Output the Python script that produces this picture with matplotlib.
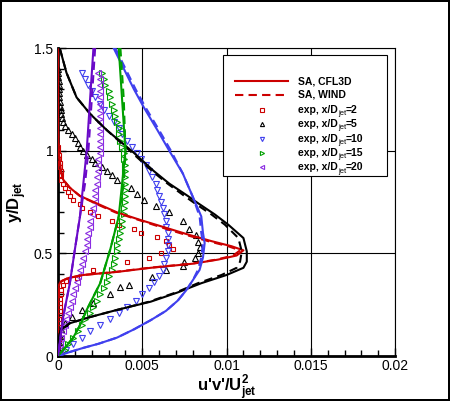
import numpy as np
import matplotlib
matplotlib.use("Agg")
import matplotlib.pyplot as plt
from matplotlib.ticker import MultipleLocator, FixedLocator
from matplotlib.patches import Rectangle

plt.rcParams['font.family'] = ['Liberation Sans', 'DejaVu Sans']
plt.rcParams['mathtext.fontset'] = 'custom'
plt.rcParams['mathtext.rm'] = 'Liberation Sans'
plt.rcParams['mathtext.bf'] = 'Liberation Sans:bold'

# ---- SA, CFL3D profiles (u'v'/Ujet^2 vs y/Djet) ----
cfl_y_2 = [1.5, 1.1, 1.0, 0.95, 0.90, 0.86, 0.82, 0.78, 0.74, 0.70, 0.66, 0.62, 0.59, 0.56, 0.535,
           0.515, 0.49, 0.47, 0.45, 0.43, 0.41, 0.395, 0.38, 0.365, 0.355, 0.34, 0.2, 0.0]
cfl_x_2 = [0.0, 0.0, 0.00003, 0.0001, 0.00018, 0.0003, 0.0007, 0.0013, 0.0024, 0.0035, 0.0050, 0.0066,
           0.0078, 0.0091, 0.0103, 0.0110, 0.0106, 0.0095, 0.0080, 0.0055, 0.0035, 0.0015, 0.0006,
           0.0002, 0.0001, 0.00003, 0.0, 0.0]
cfl_y_5 = [1.5, 1.44, 1.38, 1.32, 1.26, 1.18, 1.10, 0.99, 0.90, 0.84, 0.78, 0.745, 0.69, 0.64, 0.575,
           0.51, 0.46, 0.43, 0.395, 0.355, 0.31, 0.265, 0.225, 0.19, 0.16, 0.13, 0.11, 0.06, 0.0]
cfl_x_5 = [0.0001, 0.0003, 0.0005, 0.0008, 0.0011, 0.0019, 0.0029, 0.0045, 0.0057, 0.0066, 0.0077,
           0.0083, 0.0093, 0.0101, 0.0110, 0.0112, 0.0112, 0.0110, 0.0100, 0.0085, 0.0071, 0.0055,
           0.0035, 0.0019, 0.0007, 0.0002, 0.0001, 0.0, 0.0]
cfl_y_10 = [1.5, 1.4, 1.3, 1.21, 1.1, 1.0, 0.89, 0.775, 0.68, 0.60, 0.55, 0.48, 0.42, 0.37, 0.32,
            0.27, 0.22, 0.175, 0.13, 0.09, 0.06, 0.04, 0.02, 0.0]
cfl_x_10 = [0.0033, 0.0039, 0.0045, 0.0051, 0.0059, 0.0066, 0.0074, 0.0080, 0.0085, 0.0086, 0.0087,
            0.0086, 0.0084, 0.0080, 0.0076, 0.0071, 0.0064, 0.0055, 0.0045, 0.0035, 0.0024, 0.0015,
            0.0007, 0.0]
cfl_y_15 = [1.5, 1.25, 1.0, 0.84, 0.68, 0.52, 0.355, 0.225, 0.15, 0.09, 0.04, 0.0]
cfl_x_15 = [0.0036, 0.0038, 0.0040, 0.0038, 0.0036, 0.0031, 0.0025, 0.0017, 0.0013, 0.0009, 0.0004, 0.0]
cfl_y_20 = [1.5, 1.25, 1.0, 0.84, 0.68, 0.52, 0.355, 0.19, 0.0]
cfl_x_20 = [0.0021, 0.0019, 0.0017, 0.0015, 0.0013, 0.0010, 0.0007, 0.0003, 0.0]

# ---- SA, WIND profiles ----
wind_y_2 = [1.5, 1.1, 1.0, 0.95, 0.90, 0.86, 0.82, 0.78, 0.74, 0.70, 0.66, 0.62, 0.59, 0.56, 0.535,
            0.515, 0.49, 0.47, 0.45, 0.43, 0.41, 0.395, 0.38, 0.365, 0.355, 0.34, 0.2, 0.0]
wind_x_2 = [0.0, 0.0, 0.00003, 0.0001, 0.00018, 0.0003, 0.0007, 0.0013, 0.0023, 0.0034, 0.0049, 0.0064,
            0.0076, 0.0089, 0.0101, 0.0108, 0.0104, 0.0094, 0.0079, 0.0054, 0.0034, 0.0015, 0.0006,
            0.0002, 0.0001, 0.00003, 0.0, 0.0]
wind_y_5 = [1.5, 1.44, 1.38, 1.32, 1.26, 1.18, 1.10, 0.99, 0.90, 0.84, 0.78, 0.745, 0.69, 0.64, 0.575,
            0.51, 0.46, 0.43, 0.395, 0.355, 0.31, 0.265, 0.225, 0.19, 0.16, 0.13, 0.11, 0.06, 0.0]
wind_x_5 = [0.0001, 0.0003, 0.0005, 0.0008, 0.0011, 0.0019, 0.0029, 0.0044, 0.0056, 0.0065, 0.0075,
            0.0081, 0.0091, 0.0099, 0.0107, 0.0109, 0.0108, 0.0106, 0.0097, 0.0083, 0.0070, 0.0054,
            0.0035, 0.0019, 0.0007, 0.0002, 0.0001, 0.0, 0.0]
wind_y_10 = [1.5, 1.4, 1.3, 1.21, 1.1, 1.0, 0.89, 0.775, 0.68, 0.60, 0.55, 0.48, 0.42, 0.37, 0.32,
             0.27, 0.22, 0.175, 0.13, 0.09, 0.06, 0.04, 0.02, 0.0]
wind_x_10 = [0.0034, 0.0040, 0.0046, 0.0052, 0.0060, 0.0067, 0.0074, 0.0080, 0.0084, 0.0085, 0.0086,
             0.0085, 0.0083, 0.0080, 0.0076, 0.0071, 0.0064, 0.0055, 0.0045, 0.0035, 0.0024, 0.0015,
             0.0007, 0.0]
wind_y_15 = [1.5, 1.25, 1.0, 0.84, 0.68, 0.52, 0.355, 0.225, 0.15, 0.09, 0.04, 0.0]
wind_x_15 = [0.0037, 0.0039, 0.0040, 0.0039, 0.0036, 0.0031, 0.0025, 0.0017, 0.0013, 0.0009, 0.0004, 0.0]
wind_y_20 = [1.5, 1.25, 1.0, 0.84, 0.68, 0.52, 0.355, 0.19, 0.0]
wind_x_20 = [0.0022, 0.0020, 0.0018, 0.0016, 0.0013, 0.0010, 0.0007, 0.0003, 0.0]

# ---- experiment ----
exp_y_2 = [1.02, 1.0, 0.98, 0.96, 0.94, 0.92, 0.90, 0.88, 0.86, 0.84, 0.82, 0.80, 0.78, 0.76, 0.74,
           0.72, 0.70, 0.68, 0.66, 0.64, 0.62, 0.60, 0.58, 0.56, 0.54, 0.52, 0.50, 0.48, 0.46, 0.42,
           0.38, 0.365, 0.345, 0.32, 0.30, 0.28, 0.26, 0.24, 0.22, 0.20, 0.18, 0.16, 0.14, 0.12,
           0.10, 0.08, 0.06, 0.04, 0.02]
exp_x_2 = [0.0, 0.00002, 0.00005, 0.00008, 0.0001, 0.00012, 0.00015, 0.0002, 0.0002, 0.0003, 0.0004,
           0.0006, 0.0007, 0.0009, 0.0013, 0.0014, 0.0019, 0.0024, 0.0032, 0.0036, 0.0045, 0.0049,
           0.0059, 0.0064, 0.0066, 0.0068, 0.0061, 0.0054, 0.0041, 0.0021, 0.0011, 0.0005, 0.0003,
           0.0002, 0.00015, 0.0001, 0.0001, 0.0001, 0.0001, 0.0001, 0.00008, 0.00008, 0.00006,
           0.00005, 0.00004, 0.00003, 0.00002, 0.00001, 0.0]
exp_y_5 = [1.40, 1.38, 1.36, 1.34, 1.32, 1.30, 1.28, 1.26, 1.24, 1.22, 1.20, 1.18, 1.16, 1.14, 1.12,
           1.10, 1.08, 1.06, 1.04, 1.02, 1.00, 0.98, 0.96, 0.94, 0.92, 0.90, 0.88, 0.86, 0.82, 0.79,
           0.76, 0.73, 0.70, 0.66, 0.62, 0.59, 0.555, 0.53, 0.50, 0.48, 0.46, 0.44, 0.42, 0.385,
           0.345, 0.335, 0.30, 0.26, 0.225, 0.19, 0.16, 0.13, 0.10, 0.07, 0.04, 0.01]
exp_x_5 = [0.0, 0.0, 0.00002, 0.00003, 0.00004, 0.00005, 0.00006, 0.00008, 0.0001, 0.00012, 0.00015,
           0.0002, 0.00025, 0.0003, 0.0004, 0.0006, 0.0008, 0.0010, 0.0012, 0.0013, 0.0015, 0.0017,
           0.0020, 0.0022, 0.0026, 0.0029, 0.0032, 0.0035, 0.0043, 0.0047, 0.0051, 0.0058, 0.0066,
           0.0074, 0.0078, 0.0082, 0.0083, 0.0084, 0.0083, 0.0081, 0.0075, 0.0074, 0.0064, 0.0056,
           0.0042, 0.0037, 0.0031, 0.0021, 0.0014, 0.0008, 0.0004, 0.0002, 0.0001, 0.00005, 0.00002, 0.0]
exp_y_10 = [1.38, 1.35, 1.32, 1.29, 1.26, 1.23, 1.20, 1.17, 1.14, 1.11, 1.08, 1.05, 1.02, 0.99, 0.96,
            0.93, 0.90, 0.87, 0.84, 0.81, 0.78, 0.75, 0.72, 0.69, 0.66, 0.63, 0.60, 0.57, 0.54, 0.51,
            0.48, 0.45, 0.42, 0.39, 0.36, 0.33, 0.30, 0.27, 0.24, 0.21, 0.18, 0.15, 0.12, 0.09, 0.06, 0.03]
exp_x_10 = [0.0014, 0.0016, 0.0018, 0.0020, 0.0022, 0.0025, 0.0027, 0.0030, 0.0033, 0.0036, 0.0038,
            0.0041, 0.0044, 0.0047, 0.0049, 0.0052, 0.0054, 0.0056, 0.0058, 0.0059, 0.0060, 0.0061,
            0.0062, 0.0063, 0.0064, 0.0064, 0.0065, 0.0065, 0.0065, 0.0065, 0.0064, 0.0063, 0.0062,
            0.0060, 0.0057, 0.0054, 0.0050, 0.0046, 0.0041, 0.0036, 0.0031, 0.0025, 0.0019, 0.0014,
            0.0009, 0.0005]
exp_y_15 = exp_y_10
exp_x_15 = [0.0026, 0.0027, 0.0028, 0.0030, 0.0031, 0.0032, 0.0033, 0.0034, 0.0035, 0.0036, 0.0036,
            0.0037, 0.0038, 0.0039, 0.0039, 0.0040, 0.0040, 0.0040, 0.0040, 0.0040, 0.0040, 0.0040,
            0.0039, 0.0039, 0.0038, 0.0038, 0.0037, 0.0036, 0.0035, 0.0035, 0.0034, 0.0033, 0.0032,
            0.0030, 0.0029, 0.0027, 0.0025, 0.0023, 0.0021, 0.0019, 0.0016, 0.0014, 0.0012, 0.0009,
            0.0006, 0.0004]
exp_y_20 = exp_y_10
exp_x_20 = [0.0024, 0.0025, 0.0025, 0.0025, 0.0025, 0.0025, 0.0025, 0.0025, 0.0025, 0.0025, 0.0025,
            0.0025, 0.0025, 0.0025, 0.0024, 0.0024, 0.0024, 0.0023, 0.0023, 0.0022, 0.0022, 0.0022,
            0.0021, 0.0020, 0.0019, 0.0019, 0.0018, 0.0017, 0.0017, 0.0016, 0.0015, 0.0014, 0.0013,
            0.0012, 0.0011, 0.0010, 0.0009, 0.0008, 0.0007, 0.0006, 0.0005, 0.0004, 0.0003, 0.0002,
            0.0001, 0.0001]

stations = ['2', '5', '10', '15', '20']
colors = ['#cc0000', '#000000', '#4040ee', '#00a000', '#6a0ac8']
exp_colors = ['#cc0000', '#000000', '#4040ee', '#00a000', '#8a2be2']
markers = ['s', '^', 'v', '>', '<']
msizes = [3.3, 3.8, 3.8, 3.8, 3.8]
dash = (0, (4, 2.5))

cfl = [(cfl_x_2, cfl_y_2), (cfl_x_5, cfl_y_5), (cfl_x_10, cfl_y_10), (cfl_x_15, cfl_y_15), (cfl_x_20, cfl_y_20)]
wind = [(wind_x_2, wind_y_2), (wind_x_5, wind_y_5), (wind_x_10, wind_y_10), (wind_x_15, wind_y_15), (wind_x_20, wind_y_20)]
exp = [(exp_x_2, exp_y_2), (exp_x_5, exp_y_5), (exp_x_10, exp_y_10), (exp_x_15, exp_y_15), (exp_x_20, exp_y_20)]

fig = plt.figure(figsize=(4.5, 4.01), dpi=100)
fig.patch.set_edgecolor('black')
fig.patch.set_linewidth(1.5)
ax = fig.add_axes([0.129, 0.112, 0.749, 0.768])

for i in range(5):
    ax.plot(exp[i][0], exp[i][1], linestyle='none', marker=markers[i], markersize=msizes[i],
            markerfacecolor='none', markeredgecolor=exp_colors[i], markeredgewidth=0.8, zorder=3)
for i in range(5):
    ax.plot(cfl[i][0], cfl[i][1], color=colors[i], lw=1.5, zorder=4)
    ax.plot(wind[i][0], wind[i][1], color=colors[i], lw=1.5, ls=dash, zorder=4)

ax.set_xlim(0, 0.02)
ax.set_ylim(0, 1.5)
ax.xaxis.set_major_locator(FixedLocator([0, 0.005, 0.01, 0.015, 0.02]))
ax.set_xticklabels(['0', '0.005', '0.01', '0.015', '0.02'])
ax.xaxis.set_minor_locator(MultipleLocator(0.001))
ax.yaxis.set_major_locator(FixedLocator([0, 0.5, 1, 1.5]))
ax.set_yticklabels(['0', '0.5', '1', '1.5'])
ax.yaxis.set_minor_locator(MultipleLocator(0.1))
ax.tick_params(which='both', direction='in', top=False, right=False, labelsize=10, colors='black')
ax.tick_params(which='major', length=6, width=1)
ax.tick_params(which='minor', length=4, width=1)
ax.tick_params(axis='x', pad=2)
ax.grid(True, which='major', color='black', lw=0.8)
for s in ['bottom', 'left']:
    ax.spines[s].set_linewidth(2)
for s in ['top', 'right']:
    ax.spines[s].set_linewidth(0.8)

ax.set_xlabel(r"u'v'/U$_{\mathbf{jet}}^{\mathbf{2}}$", fontsize=12, fontweight='bold', labelpad=0)
ax.set_ylabel(r"y/D$_{\mathbf{jet}}$", fontsize=12, fontweight='bold', labelpad=4)

# legend, Tecplot style: box plus hand-placed rows
ax.add_patch(Rectangle((0.49, 0.584), 0.486, 0.393, transform=ax.transAxes, facecolor='white',
                       edgecolor='black', lw=0.8, zorder=8))
row_y = [0.893, 0.848, 0.800, 0.753, 0.706, 0.659, 0.613]
ax.plot([0.525, 0.682], [row_y[0], row_y[0]], transform=ax.transAxes, color='#cc0000', lw=1.5,
        clip_on=False, zorder=9)
ax.plot([0.525, 0.682], [row_y[1], row_y[1]], transform=ax.transAxes, color='#cc0000', lw=1.5,
        ls=dash, clip_on=False, zorder=9)
for i in range(5):
    ax.plot([0.605], [row_y[i + 2]], transform=ax.transAxes, ls='none', marker=markers[i], markersize=3,
            markerfacecolor='none', markeredgecolor=exp_colors[i], markeredgewidth=0.8, clip_on=False, zorder=9)

txt_kw = dict(fontsize=7.5, fontweight='bold', zorder=10)
for y, lab in zip(row_y[:2], ['SA, CFL3D', 'SA, WIND']):
    ax.text(0.712, y, lab, transform=ax.transAxes, va='center', ha='left', **txt_kw)
for y, s in zip(row_y[2:], stations):
    t1 = ax.text(0.712, y, 'exp, x/D', transform=ax.transAxes, va='center', ha='left', **txt_kw)
    t2 = ax.annotate('jet', xy=(1.0, 0.12), xycoords=t1, va='center', ha='left',
                     fontsize=5.5, zorder=10)
    ax.annotate('=' + s, xy=(1.0, 0.0), xycoords=(t2, t1), va='bottom', ha='left', **txt_kw)

fig.savefig('out.png', dpi=100)
